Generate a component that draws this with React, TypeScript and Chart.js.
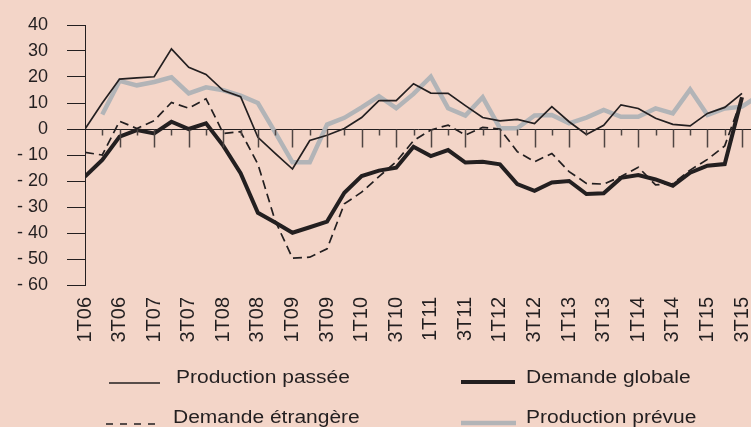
import React, { useEffect, useRef, useState } from 'react';
import { Chart, registerables } from 'chart.js';

Chart.register(...registerables);

const quarters = [
  '1T06', '2T06', '3T06', '4T06', '1T07', '2T07', '3T07', '4T07',
  '1T08', '2T08', '3T08', '4T08', '1T09', '2T09', '3T09', '4T09',
  '1T10', '2T10', '3T10', '4T10', '1T11', '2T11', '3T11', '4T11',
  '1T12', '2T12', '3T12', '4T12', '1T13', '2T13', '3T13', '4T13',
  '1T14', '2T14', '3T14', '4T14', '1T15', '2T15', '3T15', '4T15',
];

const productionPassee = [
  0, 10, 19.2, 19.7, 20.1, 30.8, 23.7, 21, 14.8, 12.4,
  -3.2, -9.4, -15.4, -4.4, -2.4, 0.2, 4.4, 10.9, 10.9, 17.4,
  13.8, 13.7, 9, 4.4, 3.1, 3.7, 2.1, 8.6, 2.8, -2.1,
  1.4, 9.3, 7.9, 4.1, 1.8, 1.2, 6, 8.3, 13.7,
];

const demandeGlobale = [
  -18.3, -11.9, -2.9, -0.4, -1.7, 2.8, 0, 2.2, -6.5, -17,
  -32.2, -36, -39.9, -37.8, -35.6, -24.5, -18.1, -16, -14.9, -6.8,
  -10.4, -8.1, -12.9, -12.6, -13.6, -21.2, -23.8, -20.6, -20, -25,
  -24.7, -18.8, -17.7, -19.4, -21.8, -16.8, -14.1, -13.5, 12.2,
];

const demandeEtrangere = [
  -9, -10, 3, 0.2, 3.2, 10.2, 8, 11.6, -1.7, -1,
  -13.5, -35.3, -49.7, -49.3, -46.1, -28.8, -24.3, -18.3, -12.6, -4.5,
  -0.4, 1.5, -2.3, 0.6, 0, -8.7, -12.6, -9.4, -16.4, -20.9,
  -21.2, -18.3, -14.7, -21.5, -21, -15.8, -11.7, -6.5, 12,
];

const productionPrevue = [
  null, 5.6, 18.5, 16.8, 18.1, 19.9, 13.7, 16, 14.9, 12.8,
  10, -1.3, -12.8, -12.8, 1.7, 4.3, 8.3, 12.6, 8, 13.5,
  20.1, 8, 5.2, 12.2, 0.3, 0.3, 5.2, 5.4, 2.2, 4.4,
  7.3, 4.7, 4.7, 7.9, 6, 15.2, 5.4, 7.9, 8.6, 13,
];

const FONT = '"Liberation Sans", Arial, Helvetica, sans-serif';
const INK = '#231f20';
const GREY = '#b2b4b7';
const BG = '#f3d5c8';
const X_MAX = 38.52;
const LAST_TICK = 38;

const toPoints = (arr: (number | null)[]) => arr.map((v, i) => ({ x: i, y: v }));

type TickMark = { x: number; y0: number; len: number };

function LegendLine({ left, top, width, color, lw, dash }: any) {
  return (
    <svg
      style={{ position: 'absolute', left, top: top - 4, overflow: 'visible' }}
      width={width}
      height={8}
    >
      <line
        x1={0}
        y1={4}
        x2={width}
        y2={4}
        stroke={color}
        strokeWidth={lw}
        strokeDasharray={dash}
      />
    </svg>
  );
}

function LegendText({ left, top, text }: any) {
  return (
    <div
      style={{
        position: 'absolute',
        left,
        top,
        fontFamily: FONT,
        fontSize: '17.5px',
        lineHeight: '17.5px',
        color: INK,
        whiteSpace: 'nowrap',
        transform: 'scaleX(1.2)',
        transformOrigin: 'left top',
      }}
    >
      {text}
    </div>
  );
}

export default function App() {
  const ref = useRef<HTMLCanvasElement | null>(null);
  const [marks, setMarks] = useState<TickMark[]>([]);

  useEffect(() => {
    if (!ref.current) return;
    const chart = new Chart(ref.current, {
      type: 'line',
      data: {
        datasets: [
          {
            label: 'Production passée',
            data: toPoints(productionPassee),
            borderColor: INK,
            borderWidth: 1.7,
            pointRadius: 0,
            tension: 0,
            order: 1,
          },
          {
            label: 'Demande globale',
            data: toPoints(demandeGlobale),
            borderColor: INK,
            borderWidth: 4,
            pointRadius: 0,
            tension: 0,
            order: 2,
          },
          {
            label: 'Demande étrangère',
            data: toPoints(demandeEtrangere),
            borderColor: INK,
            borderWidth: 1.7,
            borderDash: [9, 5],
            pointRadius: 0,
            tension: 0,
            order: 3,
          },
          {
            label: 'Production prévue',
            data: toPoints(productionPrevue),
            borderColor: GREY,
            borderWidth: 4.5,
            pointRadius: 0,
            tension: 0,
            order: 4,
          },
        ],
      },
      options: {
        animation: false,
        responsive: false,
        devicePixelRatio: 1,
        layout: { padding: { left: 0, right: 0, top: 25, bottom: 0 } },
        plugins: {
          legend: { display: false },
          tooltip: { enabled: false },
        },
        scales: {
          x: {
            type: 'linear',
            min: 0,
            max: X_MAX,
            afterBuildTicks: (scale: any) => {
              scale.ticks = quarters.slice(0, LAST_TICK + 1).map((_, i) => ({ value: i }));
            },
            afterFit: (scale: any) => {
              scale.height = 142;
              scale.paddingLeft = 0;
              scale.paddingRight = 0;
            },
            border: { display: false },
            grid: { display: false, drawTicks: false },
            ticks: {
              autoSkip: false,
              minRotation: 90,
              maxRotation: 90,
              padding: 12,
              color: INK,
              font: { family: FONT, size: 20 },
              callback: (v: any) => {
                const i = Math.round(Number(v));
                return i % 2 === 0 ? quarters[i] : '';
              },
            },
          },
          y: {
            min: -60,
            max: 40,
            afterFit: (scale: any) => {
              scale.width = 85;
              scale.paddingTop = 0;
              scale.paddingBottom = 0;
            },
            border: { display: true, color: INK, width: 1 },
            grid: {
              drawOnChartArea: true,
              color: (c: any) => (c.tick && c.tick.value === 0 ? INK : 'rgba(0,0,0,0)'),
              lineWidth: 1,
              tickLength: 18,
              tickColor: INK,
              tickWidth: 1,
            },
            ticks: {
              stepSize: 10,
              padding: 19,
              color: INK,
              font: { family: FONT, size: 18 },
              callback: (v: any) => (Number(v) < 0 ? '- ' + Math.abs(Number(v)) : String(v)),
            },
          },
        },
      },
    } as any);

    const xs: any = chart.scales.x;
    const ys: any = chart.scales.y;
    const y0 = Math.round(ys.getPixelForValue(0)) + 0.5;
    const list: TickMark[] = [];
    for (let i = 1; i <= LAST_TICK; i++) {
      const px = xs.getPixelForValue(i);
      list.push({ x: Math.round(px) + 0.5, y0, len: i % 2 === 0 ? 18 : 6 });
    }
    setMarks(list);

    return () => chart.destroy();
  }, []);

  return (
    <div
      style={{
        position: 'absolute',
        left: 0,
        top: 0,
        width: 751,
        height: 427,
        background: BG,
        overflow: 'hidden',
      }}
    >
      <canvas ref={ref} width={751} height={427} style={{ position: 'absolute', left: 0, top: 0 }} />
      <svg
        width={751}
        height={427}
        style={{ position: 'absolute', left: 0, top: 0, pointerEvents: 'none' }}
      >
        {marks.map((m, i) => (
          <line key={i} x1={m.x} y1={m.y0} x2={m.x} y2={m.y0 + m.len} stroke="#4f4543" strokeWidth={1.5} />
        ))}
      </svg>
      <LegendLine left={109} top={383} width={51} color={INK} lw={1.6} />
      <LegendText left={176} top={368.7} text="Production passée" />
      <LegendLine left={461} top={382} width={54} color={INK} lw={4} />
      <LegendText left={526} top={368.7} text="Demande globale" />
      <LegendLine left={106} top={424} width={54} color={INK} lw={1.6} dash="7 7" />
      <LegendText left={173} top={409.4} text="Demande étrangère" />
      <LegendLine left={461} top={423} width={55} color={GREY} lw={4.5} />
      <LegendText left={526} top={409.4} text="Production prévue" />
    </div>
  );
}
